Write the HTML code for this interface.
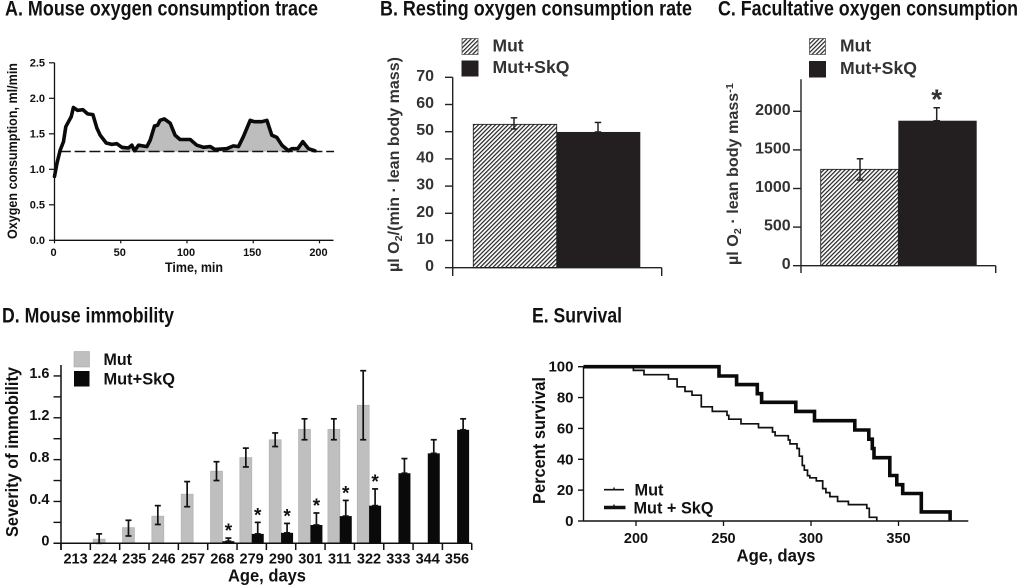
<!DOCTYPE html>
<html lang="en">
<head>
<meta charset="utf-8">
<title>Mouse oxygen consumption, immobility and survival</title>
<style>
html,body{margin:0;padding:0;background:#fff;width:1020px;height:587px;overflow:hidden}
svg{display:block;position:absolute;left:0;top:0;filter:blur(0.3px)}
text{font-family:"Liberation Sans",Arial,sans-serif;font-weight:bold;fill:#111}
.g text,text.g{fill:#333}
</style>
</head>
<body>
<svg id="fig" xmlns="http://www.w3.org/2000/svg" width="1020" height="587" viewBox="0 0 1020 587">
<defs>
<pattern id="hatch" patternUnits="userSpaceOnUse" width="3" height="3" patternTransform="rotate(45)">
<rect width="3" height="3" fill="#fff"/>
<rect x="0" y="0" width="1.2" height="3" fill="#222"/>
</pattern>
</defs>
<rect width="1020" height="587" fill="#fff"/>

<text x="5" y="15.5" font-size="21" textLength="313" lengthAdjust="spacingAndGlyphs">A. Mouse oxygen consumption trace</text>
<text x="380" y="15.5" font-size="21" textLength="312" lengthAdjust="spacingAndGlyphs">B. Resting oxygen consumption rate</text>
<text x="718" y="15.5" font-size="21" textLength="300" lengthAdjust="spacingAndGlyphs">C. Facultative oxygen consumption</text>
<text x="2" y="322.5" font-size="21" textLength="172" lengthAdjust="spacingAndGlyphs">D. Mouse immobility</text>
<text x="532" y="322.5" font-size="21" textLength="90" lengthAdjust="spacingAndGlyphs">E. Survival</text>

<g id="panelA">
<text transform="translate(17,239) rotate(-90)" font-size="13.5" textLength="176" lengthAdjust="spacingAndGlyphs">Oxygen consumption, ml/min</text>
<text x="165" y="272" font-size="13.5" textLength="58" lengthAdjust="spacingAndGlyphs">Time, min</text>
</g>

<g id="panelB" class="g">
<text transform="translate(399,272) rotate(-90)" font-size="15.5" textLength="215" lengthAdjust="spacingAndGlyphs">µl O<tspan dy="3" font-size="10.5">2</tspan><tspan dy="-3">/(min · lean body mass)</tspan></text>
<rect x="462" y="38.5" width="16" height="16" fill="url(#hatch)" stroke="#555" stroke-width="0.8"/>
<text x="492.5" y="51.5" font-size="17.5">Mut</text>
<rect x="461.5" y="60.5" width="17" height="16" fill="#231f20"/>
<text x="492.5" y="73" font-size="17.5" textLength="77" lengthAdjust="spacingAndGlyphs">Mut+SkQ</text>
</g>

<g id="panelC" class="g">
<text transform="translate(738,265) rotate(-90)" font-size="15.5" textLength="182" lengthAdjust="spacingAndGlyphs">µl O<tspan dy="3" font-size="10.5">2</tspan><tspan dy="-3"> · lean body mass</tspan><tspan dy="-5" font-size="10.5">-1</tspan></text>
<rect x="809.5" y="38.5" width="16" height="16" fill="url(#hatch)" stroke="#555" stroke-width="0.8"/>
<text x="840" y="51.5" font-size="17.5">Mut</text>
<rect x="809" y="61" width="17" height="16.5" fill="#231f20"/>
<text x="840" y="74" font-size="17.5" textLength="77" lengthAdjust="spacingAndGlyphs">Mut+SkQ</text>
</g>

<g id="panelD">
<text transform="translate(18,537) rotate(-90)" font-size="17.5" textLength="170" lengthAdjust="spacingAndGlyphs">Severity of immobility</text>
<text x="228" y="581.5" font-size="17.5" textLength="78" lengthAdjust="spacingAndGlyphs">Age, days</text>
<rect x="74" y="351.5" width="15.5" height="15.5" fill="#bfbfbf" stroke="#aaa" stroke-width="0.6"/>
<text x="103.5" y="365" font-size="16.5" textLength="28.5" lengthAdjust="spacingAndGlyphs">Mut</text>
<rect x="74" y="371" width="15.5" height="15.5" fill="#0a0a0a"/>
<text x="103.5" y="384.5" font-size="16.5" textLength="71.5" lengthAdjust="spacingAndGlyphs">Mut+SkQ</text>
</g>

<g id="panelE">
<text transform="translate(545,504) rotate(-90)" font-size="17.5" textLength="127" lengthAdjust="spacingAndGlyphs">Percent survival</text>
<text x="736.5" y="561.5" font-size="17.5" textLength="79" lengthAdjust="spacingAndGlyphs">Age, days</text>
<line x1="604" y1="489.7" x2="624" y2="489.7" stroke="#111" stroke-width="1.6"/>
<line x1="614" y1="487.5" x2="614" y2="489.7" stroke="#111" stroke-width="1.4"/>
<text x="634.5" y="495.5" font-size="17" textLength="29" lengthAdjust="spacingAndGlyphs">Mut</text>
<line x1="604" y1="507.5" x2="625.5" y2="507.5" stroke="#111" stroke-width="3.6"/>
<line x1="614" y1="504.5" x2="614" y2="507.5" stroke="#111" stroke-width="1.4"/>
<text x="633.5" y="513.5" font-size="17" textLength="80" lengthAdjust="spacingAndGlyphs">Mut + SkQ</text>
</g>
</svg>

<script>
// ---------- Panel A data ----------
const traceTime = [0,1.8,4.3,6.8,8.5,10.6,12.6,14.3,17.4,21.4,25,29,32,34.5,39,43.3,47,50.8,55.8,58.4,60.4,63.4,69.7,72.2,75.5,77.7,79.7,82.8,87.3,91,94.8,102.4,107.4,112.5,117.5,121,130,135,138.9,142.6,147.7,150.7,156.5,160.3,164,167.8,171.6,176.6,179,183.6,187.4,191.7,196.6];
const traceO2 = [0.9,1.08,1.27,1.39,1.6,1.67,1.74,1.87,1.83,1.84,1.78,1.77,1.58,1.48,1.37,1.35,1.36,1.31,1.3,1.34,1.26,1.34,1.32,1.41,1.61,1.62,1.69,1.71,1.65,1.48,1.42,1.42,1.34,1.31,1.32,1.28,1.29,1.33,1.32,1.46,1.69,1.67,1.67,1.69,1.48,1.45,1.34,1.26,1.29,1.29,1.39,1.29,1.26];
const traceBaseline = 1.25;
const traceFillStart = 50.8;
const aXTicks = [0,50,100,150,200];
const aYTicks = [0,0.5,1,1.5,2,2.5];
const aYLabels = ['0.0','0.5','1.0','1.5','2.0','2.5'];

// ---------- Panel B data ----------
const bValues = [52.7,49.9];
const bErrUpper = [55.1,53.4];
const bErrLower = [51,49.9];
const bYTicks = [0,10,20,30,40,50,60,70];

// ---------- Panel C data ----------
const cValues = [1248,1878];
const cErrUpper = [1385,2046];
const cErrLower = [1110,1878];
const cYTicks = [0,500,1000,1500,2000];
const cStar = ['','*'];

// ---------- Panel D data ----------
const dAges = ['213','224','235','246','257','268','279','290','301','311','322','333','344','356'];
const dMut = [0,0.04,0.15,0.26,0.47,0.69,0.82,0.99,1.09,1.09,1.32,null,null,null];
const dMutHi = [0,0.09,0.22,0.36,0.59,0.78,0.91,1.055,1.19,1.19,1.65,null,null,null];
const dMutLo = [0,0,0.07,0.18,0.35,0.6,0.73,0.925,0.99,0.99,0.99,null,null,null];
const dSkq = [null,null,null,null,null,0.02,0.09,0.1,0.175,0.26,0.36,0.67,0.86,1.085];
const dSkqHi = [null,null,null,null,null,0.05,0.2,0.19,0.29,0.41,0.52,0.81,0.99,1.19];
const dStars = [0,0,0,0,0,1,1,1,1,1,1,0,0,0];
const dYTicks = [0,0.2,0.4,0.6,0.8,1,1.2,1.4,1.6];
const dYLabels = ['0','','0.4','','0.8','','1.2','','1.6'];

// ---------- Panel E data ----------
const eMutAge = [170,198.5,204.6,218.5,223.5,228,232,237.3,243.6,252,253,260,270,278,279.5,287,288,292,293.3,295,296.2,298,299.3,303,306.7,308.5,310.8,315.2,321.4,331.9,333.3,337.6];
const eMutPct = [100,97.6,94.8,92,87,84,81.5,74,71,68.5,66,63,60.5,57.7,55.3,52.5,50,47,42,36,33,29.4,28,26,21,18.4,15.8,12.7,10.6,8.2,2.4,0];
const eSkqAge = [170,247.4,257.5,269.3,271.8,291.3,302,325,333,335,336,345,349,352.4,363,379.5];
const eSkqPct = [100,94,88.4,82.5,76.9,71,65,59,53,47,41,29.5,23.5,17.8,5.9,0];
const eXTicks = [200,250,300,350];
const eYTicks = [0,20,40,60,80,100];

const NS = 'http://www.w3.org/2000/svg';
function mk(tag, attrs, parent, txt) {
  const n = document.createElementNS(NS, tag);
  for (const k in attrs) n.setAttribute(k, attrs[k]);
  if (txt !== undefined) n.textContent = txt;
  parent.appendChild(n);
  return n;
}
function axisLine(parent, x1, y1, x2, y2, w, color, name) {
  const el = mk('line', {x1, y1, x2, y2, stroke: color, 'stroke-width': w}, parent);
  
  
  return el;
}
function label(parent, x, y, anchor, size, str, name) {
  const el = mk('text', {x, y, 'text-anchor': anchor, 'font-size': size}, parent, str);
  
  
  return el;
}
function errorBar(parent, x, hiY, loY, capW, w, color, name) {
  const g = mk('g', {stroke: color, 'stroke-width': w, fill: 'none'}, parent);
  
  
  mk('line', {x1: x, y1: hiY, x2: x, y2: loY}, g);
  mk('line', {x1: x - capW / 2, y1: hiY, x2: x + capW / 2, y2: hiY}, g);
  if (loY !== null) mk('line', {x1: x - capW / 2, y1: loY, x2: x + capW / 2, y2: loY}, g);
}

// ---------- Panel A ----------
(function () {
  const p = document.getElementById('panelA');
  const X = t => 54.5 + t * 1.325;
  const Y = v => 240.3 - v * 71;
  const fillPts = [];
  traceTime.forEach((t, i) => {
    if (t >= traceFillStart) fillPts.push(X(t).toFixed(1) + ',' + Math.min(Y(traceO2[i]), Y(traceBaseline)).toFixed(1));
  });
  fillPts.push(X(traceTime[traceTime.length - 1]).toFixed(1) + ',' + Y(traceBaseline).toFixed(1));
  fillPts.push(X(traceFillStart).toFixed(1) + ',' + Y(traceBaseline).toFixed(1));
  const area = mk('polygon', {points: fillPts.join(' '), fill: '#bdbdbd'}, p);
  
  

  const base = mk('line', {x1: X(4), y1: Y(traceBaseline), x2: X(211), y2: Y(traceBaseline), stroke: '#111', 'stroke-width': 1.5, 'stroke-dasharray': '11 3.8'}, p);
  
  

  const d = traceTime.map((t, i) => (i ? 'L' : 'M') + X(t).toFixed(1) + ' ' + Y(traceO2[i]).toFixed(1)).join(' ');
  const line = mk('path', {d, fill: 'none', stroke: '#0a0a0a', 'stroke-width': 3.6, 'stroke-linejoin': 'round', 'stroke-linecap': 'round'}, p);
  
  

  axisLine(p, X(0), Y(2.5), X(0), Y(0), 1.3, '#111', 'a-y-axis');
  axisLine(p, X(0), Y(0), 333.5, Y(0), 1.3, '#111', 'a-x-axis');
  aYTicks.forEach((v, i) => {
    axisLine(p, X(0) - 5.5, Y(v), X(0), Y(v), 1.2, '#111', 'a-y-tick');
    label(p, 45, Y(v) + 3.5, 'end', 11, aYLabels[i], 'a-y-tick-label');
  });
  aXTicks.forEach(v => {
    axisLine(p, X(v), Y(0), X(v), Y(0) + 3, 1.2, '#111', 'a-x-tick');
    label(p, X(v) - 1, 256, 'middle', 11, String(v), 'a-x-tick-label');
  });
})();

// ---------- Panel B ----------
(function () {
  const p = document.getElementById('panelB');
  const Y = v => 267.7 - v * 2.72;
  const left = [473.3, 556.7];
  const w = [83.4, 83.6];
  const centers = [514, 598];
  const fills = ['url(#hatch)', '#231f20'];
  const names = ['b-bar-mut', 'b-bar-mut-skq'];
  bValues.forEach((v, i) => {
    const el = mk('rect', {x: left[i], y: Y(v), width: w[i], height: Y(0) - Y(v), fill: fills[i], stroke: i ? 'none' : '#222', 'stroke-width': 0.9}, p);
    
    
    errorBar(p, centers[i], Y(bErrUpper[i]), Y(bErrLower[i]), 6.5, 1.5, '#222', 'b-error-bar');
  });
  axisLine(p, 452.7, Y(70), 452.7, 276, 1.4, '#222', 'b-y-axis');
  axisLine(p, 445, Y(0), 661.7, Y(0), 1.4, '#222', 'b-x-axis');
  axisLine(p, 661.7, Y(0), 661.7, 276, 1.4, '#222', 'b-x-axis-end-tick');
  bYTicks.forEach(v => {
    if (v) axisLine(p, 445, Y(v), 452.7, Y(v), 1.4, '#222', 'b-y-tick');
    label(p, 434, Y(v) + 3.5, 'end', 16, String(v), 'b-y-tick-label');
  });
})();

// ---------- Panel C ----------
(function () {
  const p = document.getElementById('panelC');
  const Y = v => 265.7 - v * 0.0772;
  const left = [820.7, 898.3];
  const w = [77.6, 78.4];
  const centers = [860, 936.7];
  const fills = ['url(#hatch)', '#231f20'];
  const names = ['c-bar-mut', 'c-bar-mut-skq'];
  cValues.forEach((v, i) => {
    const el = mk('rect', {x: left[i], y: Y(v), width: w[i], height: Y(0) - Y(v), fill: fills[i], stroke: i ? 'none' : '#222', 'stroke-width': 0.9}, p);
    
    
    errorBar(p, centers[i], Y(cErrUpper[i]), Y(cErrLower[i]), 6.5, 1.5, '#222', 'c-error-bar');
    if (cStar[i]) {
      const st = label(p, centers[i], Y(cErrUpper[i]) + 1, 'middle', 28, cStar[i], 'c-significance-star');
      st.setAttribute('fill', '#222');
    }
  });
  axisLine(p, 801, 79.3, 801, 273, 1.4, '#222', 'c-y-axis');
  axisLine(p, 793, Y(0), 995.7, Y(0), 1.4, '#222', 'c-x-axis');
  axisLine(p, 995.7, Y(0), 995.7, 273, 1.4, '#222', 'c-x-axis-end-tick');
  cYTicks.forEach(v => {
    if (v) axisLine(p, 793, Y(v), 801, Y(v), 1.4, '#222', 'c-y-tick');
    label(p, 790.7, Y(v) + 3.5, 'end', 16, String(v), 'c-y-tick-label');
  });
})();

// ---------- Panel D ----------
(function () {
  const p = document.getElementById('panelD');
  const step = 29.34;
  const G = i => 61 + i * step;
  const Y = v => 543.3 - v * 104.6;
  dAges.forEach((age, i) => {
    if (dMut[i]) {
      const el = mk('rect', {x: G(i) + 2.8, y: Y(dMut[i]), width: 12, height: Y(0) - Y(dMut[i]), fill: '#bfbfbf', stroke: '#adadad', 'stroke-width': 0.6}, p);
      
      
      errorBar(p, G(i) + 8.8, Y(dMutHi[i]), Y(dMutLo[i]), 6, 1.7, '#111', 'd-error-bar-mut');
    }
    if (dSkq[i] !== null) {
      const el = mk('rect', {x: G(i) + 14.7, y: Y(dSkq[i]), width: 12, height: Y(0) - Y(dSkq[i]), fill: '#0a0a0a'}, p);
      
      
      errorBar(p, G(i) + 20.7, Y(dSkqHi[i]), Y(dSkq[i]), 6, 1.7, '#111', 'd-error-bar-mut-skq');
      if (dStars[i]) label(p, G(i) + 20.7, Y(dSkqHi[i]) - 1, 'middle', 19, '*', 'd-significance-star');
    }
    axisLine(p, G(i), Y(0), G(i), 550, 1.5, '#111', 'd-x-tick');
    label(p, G(i) + 14.6, 563.5, 'middle', 14.5, age, 'd-x-tick-label');
  });
  axisLine(p, G(14), Y(0), G(14), 550, 1.5, '#111', 'd-x-tick');
  axisLine(p, 61, 365, 61, 550, 1.5, '#111', 'd-y-axis');
  axisLine(p, 53.5, Y(0), G(14), Y(0), 1.5, '#111', 'd-x-axis');
  dYTicks.forEach((v, i) => {
    axisLine(p, 53.5, Y(v), 61, Y(v), 1.4, '#111', 'd-y-tick');
    if (dYLabels[i]) label(p, 49.5, Y(v) + 2.3, 'end', 14.5, dYLabels[i], 'd-y-tick-label');
  });
})();

// ---------- Panel E ----------
(function () {
  const p = document.getElementById('panelE');
  const X = a => 636 + (a - 200) * 1.75;
  const Y = v => 521 - v * 1.543;
  function steps(ages, pcts) {
    let d = 'M' + X(ages[0]).toFixed(1) + ' ' + Y(pcts[0]).toFixed(1);
    for (let i = 1; i < ages.length; i++) {
      d += ' H' + X(ages[i]).toFixed(1) + ' V' + Y(pcts[i]).toFixed(1);
    }
    return d;
  }
  const mut = mk('path', {d: steps(eMutAge, eMutPct), fill: 'none', stroke: '#111', 'stroke-width': 1.7}, p);
  
  
  const skq = mk('path', {d: steps(eSkqAge, eSkqPct), fill: 'none', stroke: '#0a0a0a', 'stroke-width': 3.6}, p);
  
  

  axisLine(p, X(170), Y(100), X(170), Y(0), 1.4, '#111', 'e-y-axis');
  axisLine(p, X(170), Y(0), 968.3, Y(0), 1.4, '#111', 'e-x-axis');
  eYTicks.forEach(v => {
    axisLine(p, 578, Y(v), X(170), Y(v), 1.4, '#111', 'e-y-tick');
    label(p, 573.5, Y(v) + 5, 'end', 15, String(v), 'e-y-tick-label');
  });
  eXTicks.forEach(v => {
    axisLine(p, X(v), Y(0), X(v), 526, 1.3, '#111', 'e-x-tick');
    label(p, X(v), 543, 'middle', 14.5, String(v), 'e-x-tick-label');
  });
})();
</script>
</body>
</html>
